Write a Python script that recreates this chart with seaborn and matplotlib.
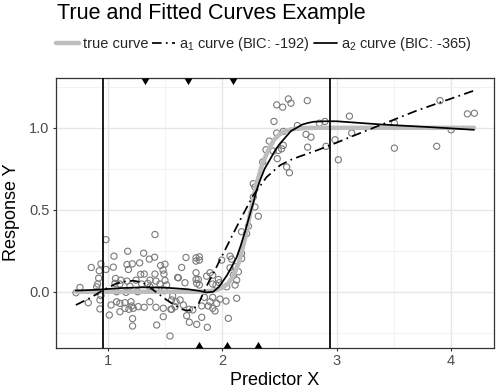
import matplotlib
matplotlib.use("Agg")
import matplotlib.pyplot as plt
from matplotlib.lines import Line2D
from matplotlib.markers import MarkerStyle
import seaborn as sns
import pandas as pd

# ---------------- data ----------------
pts_x = [1.409, 0.98, 1.17, 1.05, 1.31, 1.36, 1.406, 0.851, 0.936, 0.921, 1.044, 0.98, 1.164, 1.21, 1.275,
         1.176, 1.459, 1.497, 1.48, 1.488, 1.409, 1.284, 1.315, 1.608, 0.916, 1.064, 1.11, 1.164, 1.243,
         1.365, 1.418, 1.497, 0.907, 1.059, 1.102, 1.293, 1.345, 1.453, 1.511, 0.752, 0.898, 1.19, 1.365,
         0.717, 0.898, 1.073, 1.155, 1.257, 1.418, 1.491, 0.936, 0.927, 0.825, 1.024, 1.102, 1.073, 1.146,
         1.199, 1.205, 1.263, 1.315, 1.181, 1.146, 1.219, 1.418, 1.365, 1.555, 0.927, 1.009, 1.102, 1.482,
         1.549, 1.585, 1.213, 1.213, 1.424, 1.482, 1.541,
         1.681, 1.769, 1.798, 1.769, 1.798, 1.643, 1.769, 1.614, 1.672, 1.769, 1.789, 1.775, 1.798, 1.862,
         1.892, 1.915, 1.965, 1.973, 1.915, 1.944, 1.994, 2.067, 2.081, 2.111, 2.067, 2.14, 2.169, 2.096,
         2.125, 2.111, 2.038, 1.564, 1.594, 1.629, 1.556, 1.658, 1.71, 1.687, 1.74, 1.819, 1.892, 1.877,
         1.915, 1.95, 1.935, 1.979, 2.032, 1.915, 1.842, 1.819, 1.71, 1.775, 1.868, 2.052, 2.125,
         2.271, 2.285, 2.271, 2.285, 2.315, 2.168, 2.212, 2.168, 2.228,
         2.476, 2.528, 2.578, 2.601, 2.744, 2.452, 2.476, 2.534, 2.411, 2.382, 2.446, 2.49, 2.519, 2.534,
         2.481, 2.353, 2.563, 2.587, 2.657, 2.733, 2.776, 2.747, 2.85, 2.899, 2.908, 2.987, 3.016,
         3.113, 3.133, 3.507, 3.507, 3.878, 3.907, 4.004, 4.147, 4.208]
pts_y = [0.349, 0.318, 0.247, 0.217, 0.235, 0.199, 0.211, 0.148, 0.17, 0.128, 0.15, 0.136, 0.166, 0.17, 0.176,
         0.136, 0.16, 0.168, 0.132, 0.108, 0.108, 0.106, 0.108, 0.087, 0.083, 0.081, 0.071, 0.065, 0.071,
         0.071, 0.065, 0.069, 0.047, 0.051, 0.047, 0.047, 0.051, 0.047, 0.041, 0.026, 0.03, 0.034, 0.03,
         -0.006, 0.0, 0.0, -0.004, 0.0, 0.01, 0.006, -0.024, -0.05, -0.067, -0.081, -0.071, -0.061, -0.067,
         -0.061, -0.087, -0.091, -0.095, -0.107, -0.101, -0.101, -0.095, -0.061, -0.05, -0.105, -0.142,
         -0.122, -0.101, -0.107, -0.091, -0.164, -0.209, -0.203, -0.152, -0.27,
         0.209, 0.207, 0.213, 0.187, 0.193, 0.148, 0.116, 0.085, 0.055, 0.075, 0.075, 0.051, 0.041, 0.095,
         0.116, 0.101, 0.075, 0.055, 0.047, 0.041, 0.193, 0.217, 0.199, 0.152, 0.146, 0.122, 0.203, 0.101,
         0.071, 0.041, 0.03, -0.026, -0.061, -0.05, -0.107, -0.081, -0.107, -0.146, -0.111, -0.087, -0.061,
         -0.087, -0.101, -0.071, -0.117, -0.045, -0.057, -0.034, -0.034, -0.156, -0.186, -0.199, -0.217,
         -0.162, -0.04,
         0.659, 0.639, 0.578, 0.517, 0.461, 0.366, 0.355, 0.234, 0.40,
         1.14, 1.126, 1.176, 1.15, 1.166, 1.039, 0.968, 0.978, 0.919, 0.866, 0.858, 0.862, 0.872, 0.893,
         0.812, 0.791, 0.761, 0.726, 1.014, 0.96, 0.943, 0.882, 1.028, 1.039, 0.887, 0.927, 0.805,
         1.071, 0.968, 1.028, 0.876, 0.887, 1.166, 0.988, 1.085, 1.089]

true_x = [0.716, 1.0, 1.5, 1.8, 1.9, 1.95, 2.0, 2.05, 2.1, 2.15, 2.2, 2.25, 2.3, 2.35, 2.4, 2.45, 2.5,
          2.55, 2.6, 2.7, 2.8, 3.0, 4.205]
true_y = [0.0, 0.0, 0.0, 0.0, 0.005, 0.012, 0.025, 0.05, 0.10, 0.19, 0.33, 0.50, 0.66, 0.78, 0.86, 0.925,
          0.96, 0.98, 0.99, 0.998, 1.0, 1.0, 1.0]

a1_x = [0.716, 0.85, 0.956, 1.073, 1.15, 1.22, 1.3, 1.394, 1.511, 1.628, 1.68, 1.74, 1.79, 1.832, 1.88,
        1.92, 2.037, 2.154, 2.271, 2.388, 2.504, 2.6, 2.68, 2.826, 2.943, 3.118, 3.41, 3.703, 3.995, 4.205]
a1_y = [-0.081, -0.035, 0.011, 0.051, 0.063, 0.067, 0.057, 0.011, -0.05, -0.101, -0.115, -0.11, -0.075,
        -0.01, 0.06, 0.112, 0.274, 0.436, 0.589, 0.70, 0.771, 0.805, 0.826, 0.862, 0.893, 0.943, 1.024,
        1.105, 1.176, 1.227]

a2_x = [0.716, 0.9, 1.1, 1.3, 1.5, 1.7, 1.8, 1.86, 1.92, 1.97, 2.0, 2.04, 2.08, 2.125, 2.16, 2.2, 2.24,
        2.27, 2.3, 2.33, 2.37, 2.42, 2.46, 2.5, 2.55, 2.6, 2.65, 2.7, 2.75, 2.8, 2.9, 3.0, 3.4, 3.8, 4.205]
a2_y = [0.007, 0.012, 0.022, 0.027, 0.025, 0.015, 0.005, -0.004, 0.0, 0.03, 0.06, 0.10, 0.15, 0.21, 0.28,
        0.37, 0.47, 0.54, 0.62, 0.68, 0.75, 0.81, 0.86, 0.90, 0.94, 0.98, 1.0, 1.02, 1.03, 1.037, 1.04,
        1.04, 1.02, 1.005, 0.988]

boundaries = [0.957, 2.944]
knots_a1 = [1.322, 1.696, 2.096]
knots_a2 = [1.795, 2.043, 2.315]

title = "True and Fitted Curves Example"
labels = ["true curve", "a$_{1}$ curve (BIC: -192)", "a$_{2}$ curve (BIC: -365)"]
xlabel = "Predictor X"
ylabel = "Response Y"
x_ticks = [1, 2, 3, 4]
y_ticks = [0.0, 0.5, 1.0]
y_ticklabels = ["0.0", "0.5", "1.0"]

# ---------------- style ----------------
sns.set_style("white")
plt.rcParams["font.family"] = ["Liberation Sans", "DejaVu Sans"]
plt.rcParams["mathtext.fontset"] = "custom"
plt.rcParams["mathtext.rm"] = "Liberation Sans"
plt.rcParams["mathtext.it"] = "Liberation Sans"
plt.rcParams["mathtext.bf"] = "Liberation Sans"

W, H = 497, 389
fig = plt.figure(figsize=(W / 100, H / 100), dpi=100)
ax = fig.add_axes([56 / W, 1 - 347.8 / H, (494 - 56) / W, (347.8 - 77.5) / H])

# grid
ax.set_xticks(x_ticks)
ax.set_yticks(y_ticks)
ax.set_yticklabels(y_ticklabels)
ax.set_xticks([1.5, 2.5, 3.5], minor=True)
ax.set_yticks([-0.25, 0.25, 0.75, 1.25], minor=True)
ax.grid(which="major", color="#e6e6e6", linewidth=1.0)
ax.grid(which="minor", color="#f0f0f0", linewidth=0.6)
ax.set_axisbelow(True)

pts = pd.DataFrame({"x": pts_x, "y": pts_y})
sns.scatterplot(data=pts, x="x", y="y", ax=ax, marker="o", s=20,
                facecolors="none", edgecolors="#7a7a7a", linewidth=0.8, zorder=2)

sns.lineplot(x=true_x, y=true_y, ax=ax, color="#bdbdbd", linewidth=3.2, sort=False,
             estimator=None, zorder=3)
sns.lineplot(x=a1_x, y=a1_y, ax=ax, color="black", linewidth=1.25, sort=False, estimator=None,
             linestyle=(0, (5.5, 2.5, 1, 2.5)), zorder=4)
sns.lineplot(x=a2_x, y=a2_y, ax=ax, color="black", linewidth=1.25, sort=False, estimator=None, zorder=5)

for b in boundaries:
    ax.axvline(b, color="black", linewidth=1.25, zorder=5)

down = MarkerStyle([(-0.6, 0), (0.6, 0), (0, -1), (-0.6, 0)])
up = MarkerStyle([(-0.6, 0), (0.6, 0), (0, 1), (-0.6, 0)])
sns.scatterplot(x=knots_a1, y=[1] * len(knots_a1), ax=ax, marker=down, s=90, color="black",
                linewidth=0, transform=ax.get_xaxis_transform(), zorder=6, clip_on=False)
sns.scatterplot(x=knots_a2, y=[0] * len(knots_a2), ax=ax, marker=up, s=90, color="black",
                linewidth=0, transform=ax.get_xaxis_transform(), zorder=6, clip_on=False)

ax.set_xlim(0.542, 4.38)
ax.set_ylim(-0.342, 1.307)

for s in ax.spines.values():
    s.set_color("#333333")
    s.set_linewidth(0.9)
ax.tick_params(which="major", direction="out", length=2.5, width=0.8, color="#333333",
               labelcolor="#4d4d4d", labelsize=10.5, pad=2, bottom=True, left=True)
ax.tick_params(which="minor", length=0)

ax.set_xlabel(xlabel, fontsize=13, color="black", labelpad=3)
ax.set_ylabel(ylabel, fontsize=13, color="black", labelpad=7)

fig.text(57 / W, 1 - 13 / H, title, fontsize=15.5, ha="left", va="center", color="black")

handles = [
    Line2D([], [], color="#bdbdbd", linewidth=3.2),
    Line2D([], [], color="black", linewidth=1.25, linestyle=(0, (5.5, 2.5, 1, 2.5))),
    Line2D([], [], color="black", linewidth=1.25),
]
fig.legend(handles, labels, loc="center left", bbox_to_anchor=(56 / W, 1 - 44 / H), ncol=3,
           frameon=False, handlelength=1.6, handletextpad=0.25, columnspacing=0.25,
           borderpad=0, borderaxespad=0, fontsize=10.5)

fig.savefig("out.png", dpi=100)
